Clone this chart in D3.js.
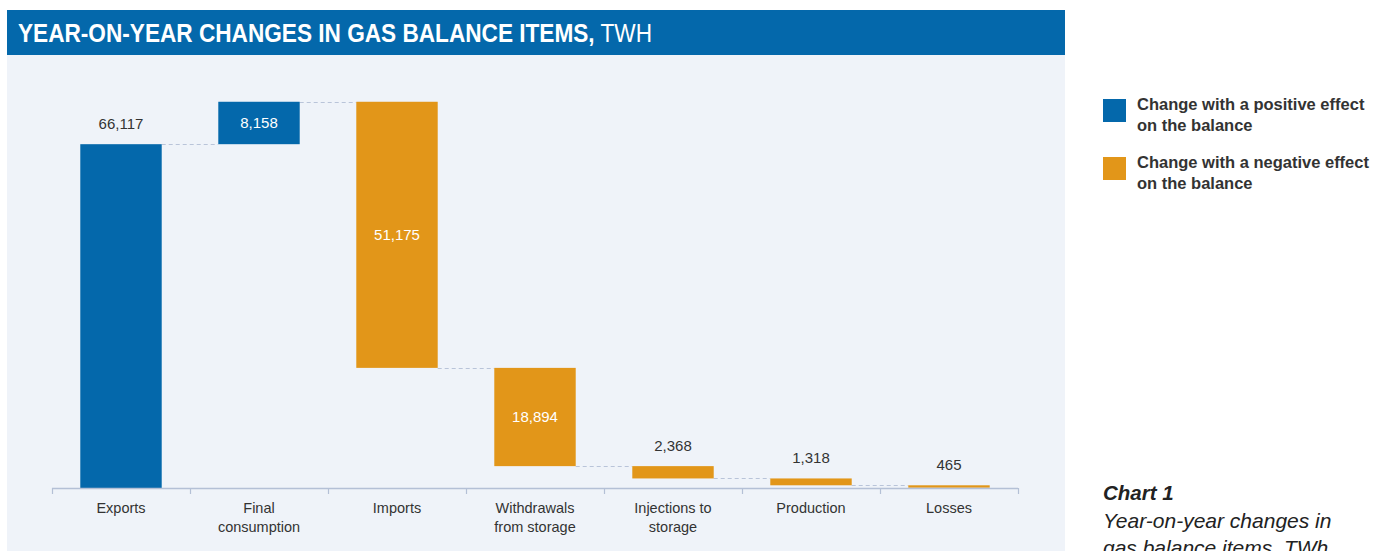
<!DOCTYPE html>
<html>
<head>
<meta charset="utf-8">
<script src="https://cdn.jsdelivr.net/npm/d3@7"></script>
<style>
  html, body { margin: 0; padding: 0; background: #fff; }
  svg { display: block; font-family: "Liberation Sans", Arial, sans-serif; }
</style>
</head>
<body>
<svg id="chart" width="1391" height="551"></svg>
<script>
// ---- data ----
const categories = ["Exports", "Final consumption", "Imports", "Withdrawals from storage", "Injections to storage", "Production", "Losses"];
const categoryLines = [["Exports"], ["Final", "consumption"], ["Imports"], ["Withdrawals", "from storage"], ["Injections to", "storage"], ["Production"], ["Losses"]];
const changes = [66117, 8158, -51175, -18894, -2368, -1318, -465];
const yTickMax = 80000;

const legendItems = ["positive", "negative"];
const legendLabels = [["Change with a positive effect", "on the balance"], ["Change with a negative effect", "on the balance"]];

const COLORS = { positive: "#0468ab", negative: "#e29619" };
const fmt = d3.format(",");

// running totals for the waterfall
let run = 0;
const rows = categories.map((c, i) => {
  const start = run;
  run += changes[i];
  return { cat: c, lines: categoryLines[i], value: changes[i], start, end: run,
           kind: changes[i] >= 0 ? "positive" : "negative" };
});

const svg = d3.select("#chart");

// panel + title band
svg.append("rect").attr("x", 7).attr("y", 55).attr("width", 1058).attr("height", 500).attr("fill", "#eff3f9");
svg.append("rect").attr("x", 7).attr("y", 10).attr("width", 1058).attr("height", 45).attr("fill", "#0468ab");
const title = svg.append("text").attr("transform", "translate(18,42) scale(0.87,1)")
  .attr("fill", "#fff").style("font-size", "26px");
title.append("tspan").style("font-weight", "bold").text("YEAR-ON-YEAR CHANGES IN GAS BALANCE ITEMS,");
title.append("tspan").text(" TWH");

// scales
const x = d3.scaleBand().domain(categories).range([52, 1018]).paddingInner(0.41).paddingOuter(0.205);
const y = d3.scaleLinear().domain([0, yTickMax]).range([488, 72]);

// connectors
const conn = rows.slice(0, -1).map((d, i) => ({ y: d.end, x1: x(d.cat) + x.bandwidth(), x2: x(rows[i + 1].cat) }));
svg.append("g").selectAll("line").data(conn).join("line")
  .attr("x1", d => d.x1).attr("x2", d => d.x2)
  .attr("y1", d => Math.round(y(d.y)) + 0.5).attr("y2", d => Math.round(y(d.y)) + 0.5)
  .attr("stroke", "#b9c4d9").attr("stroke-width", 1).attr("stroke-dasharray", "4,3");

// bars
svg.append("g").selectAll("rect").data(rows).join("rect")
  .attr("x", d => x(d.cat))
  .attr("y", d => y(Math.max(d.start, d.end)))
  .attr("width", x.bandwidth())
  .attr("height", d => Math.abs(y(d.start) - y(d.end)))
  .attr("fill", d => COLORS[d.kind]);

// value labels: inside for tall floating bars, above otherwise
const inside = d => d.start !== 0 && Math.abs(y(d.start) - y(d.end)) > 30;
svg.append("g").selectAll("text").data(rows).join("text")
  .attr("x", d => x(d.cat) + x.bandwidth() / 2)
  .attr("y", d => {
    const top = y(Math.max(d.start, d.end)), h = Math.abs(y(d.start) - y(d.end));
    return inside(d) ? top + h / 2 + 5 : top - 15;
  })
  .attr("text-anchor", "middle")
  .attr("fill", d => inside(d) ? "#fff" : "#333")
  .style("font-size", "15px")
  .text(d => fmt(Math.abs(d.value)));

// x axis
const axisG = svg.append("g").attr("transform", "translate(0,488)");
axisG.append("line").attr("x1", 52).attr("x2", 1018).attr("y1", 0.5).attr("y2", 0.5)
  .attr("stroke", "#b4c0d6").attr("stroke-width", 1.5);
const bounds = d3.range(categories.length + 1).map(i => 52 + i * x.step());
axisG.selectAll("line.tick").data(bounds).join("line").attr("class", "tick")
  .attr("x1", d => Math.round(d) + 0.5).attr("x2", d => Math.round(d) + 0.5)
  .attr("y1", 0).attr("y2", 6).attr("stroke", "#b4c0d6").attr("stroke-width", 1.2);
const lab = axisG.selectAll("text").data(rows).join("text")
  .attr("x", d => x(d.cat) + x.bandwidth() / 2).attr("y", 25)
  .attr("text-anchor", "middle").attr("fill", "#333").style("font-size", "14.5px");
lab.selectAll("tspan").data(d => d.lines).join("tspan")
  .attr("x", function () { return d3.select(this.parentNode).attr("x"); })
  .attr("dy", (d, i) => i === 0 ? 0 : 19)
  .text(d => d);

// legend
const leg = svg.append("g").selectAll("g").data(legendItems).join("g")
  .attr("transform", (d, i) => `translate(1103,${99 + i * 58})`);
leg.append("rect").attr("width", 23).attr("height", 23).attr("fill", d => COLORS[d]);
const lt = leg.append("text").attr("x", 34).attr("y", 11)
  .attr("fill", "#333").style("font-size", "16.5px").style("font-weight", "bold");
lt.selectAll("tspan").data((d, i) => legendLabels[i]).join("tspan")
  .attr("x", 34).attr("dy", (d, i) => i === 0 ? 0 : 21).text(d => d);

// caption
svg.append("text").attr("x", 1103).attr("y", 500).attr("fill", "#222")
  .style("font-size", "20.5px").style("font-style", "italic").style("font-weight", "bold").text("Chart 1");
svg.append("text").attr("x", 1103).attr("y", 528).attr("fill", "#222")
  .style("font-size", "21px").style("font-style", "italic").text("Year-on-year changes in");
svg.append("text").attr("x", 1103).attr("y", 555).attr("fill", "#222")
  .style("font-size", "21px").style("font-style", "italic").text("gas balance items, TWh");
</script>
</body>
</html>
